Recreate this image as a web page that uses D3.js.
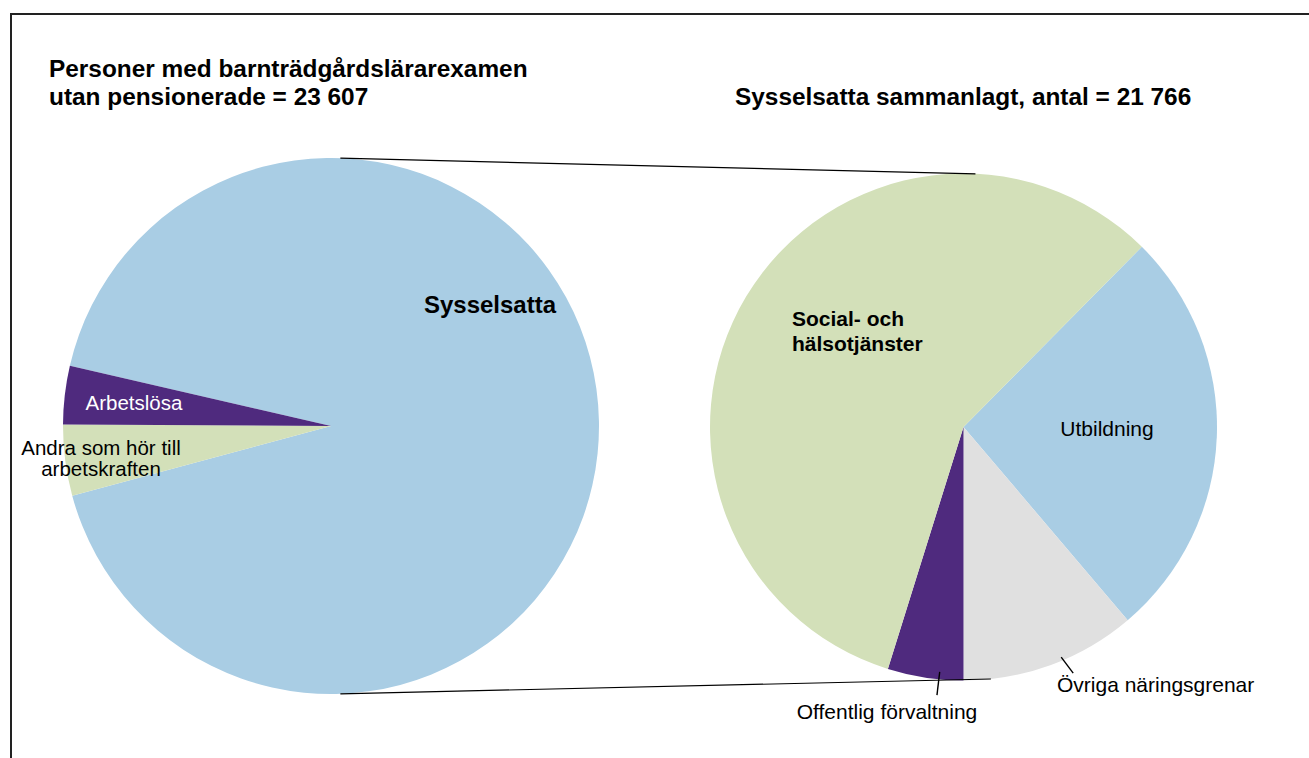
<!DOCTYPE html>
<html>
<head>
<meta charset="utf-8">
<script src="https://cdn.jsdelivr.net/npm/d3@7"></script>
<style>
  body { margin: 0; background: #fff; }
  text { font-family: "Liberation Sans", Arial, sans-serif; }
</style>
</head>
<body>
<svg id="chart"></svg>
<script>
// data
const totalLabel = ["Personer med barnträdgårdslärarexamen", "utan pensionerade = 23 607"];
const subLabel = "Sysselsatta sammanlagt, antal = 21 766";

const mainCategories = ["Sysselsatta", "Andra som hör till arbetskraften", "Arbetslösa"];
const mainValues = [21766, 1011, 830];
const mainColors = ["#a9cde4", "#d3e0b9", "#4f2a7e"];

const subCategories = ["Utbildning", "Övriga näringsgrenar", "Offentlig förvaltning", "Social- och hälsotjänster"];
const subValues = [5740, 2440, 1050, 12536];
const subColors = ["#a9cde4", "#e0e0e0", "#4f2a7e", "#d3e0b9"];

// setting up svg
const w = 1309, h = 758;
const svg = d3.select("#chart").attr("width", w).attr("height", h);

// frame
svg.append("rect")
  .attr("x", 11).attr("y", 14)
  .attr("width", w + 10).attr("height", h + 10)
  .attr("fill", "none").attr("stroke", "#222").attr("stroke-width", 2);

const deg = Math.PI / 180;
const left = { cx: 331, cy: 426, r: 268 };
const right = { cx: 963.5, cy: 427, r: 253.5 };

const polar = (c, a, r) => [c.cx + Math.sin(a) * (r ?? c.r), c.cy - Math.cos(a) * (r ?? c.r)];

// left pie
const pieMain = d3.pie().sort(null).value(d => d)
  .startAngle(-77 * deg).endAngle(283 * deg);
const arcMain = d3.arc().innerRadius(0).outerRadius(left.r);
const mainArcs = pieMain(mainValues);

svg.append("g").attr("transform", `translate(${left.cx},${left.cy})`)
  .selectAll("path")
  .data(mainArcs)
  .join("path")
    .attr("d", arcMain)
    .attr("fill", (d, i) => mainColors[i]);

// right pie
const pieSub = d3.pie().sort(null).value(d => d)
  .startAngle(44.7 * deg).endAngle(404.7 * deg);
const arcSub = d3.arc().innerRadius(0).outerRadius(right.r);
const subArcs = pieSub(subValues);

svg.append("g").attr("transform", `translate(${right.cx},${right.cy})`)
  .selectAll("path")
  .data(subArcs)
  .join("path")
    .attr("d", arcSub)
    .attr("fill", (d, i) => subColors[i]);

// connector lines
const connectors = [
  [polar(left, 2 * deg), polar(right, 2.7 * deg)],
  [polar(left, 178 * deg), polar(right, 173.8 * deg)]
];
svg.selectAll("line.conn")
  .data(connectors)
  .join("line")
    .attr("class", "conn")
    .attr("x1", d => d[0][0]).attr("y1", d => d[0][1])
    .attr("x2", d => d[1][0]).attr("y2", d => d[1][1])
    .attr("stroke", "#000").attr("stroke-width", 1.2);

// titles
svg.append("text").attr("x", 49).attr("y", 77)
  .attr("font-size", 24.4).attr("font-weight", "bold").text(totalLabel[0]);
svg.append("text").attr("x", 49).attr("y", 105)
  .attr("font-size", 24.4).attr("font-weight", "bold").text(totalLabel[1]);
svg.append("text").attr("x", 735).attr("y", 105)
  .attr("font-size", 24.4).attr("font-weight", "bold").text(subLabel);

// left labels
svg.append("text").attr("x", 490).attr("y", 313)
  .attr("text-anchor", "middle").attr("font-size", 24).attr("font-weight", "bold")
  .text(mainCategories[0]);
svg.append("text").attr("x", 134).attr("y", 410)
  .attr("text-anchor", "middle").attr("font-size", 20.5).attr("fill", "#fff")
  .text(mainCategories[2]);
const andra = svg.append("text").attr("text-anchor", "middle").attr("font-size", 20.5);
andra.append("tspan").attr("x", 101).attr("y", 455).text("Andra som hör till");
andra.append("tspan").attr("x", 101).attr("y", 476).text("arbetskraften");

// right labels
const soc = svg.append("text").attr("font-size", 21).attr("font-weight", "bold");
soc.append("tspan").attr("x", 792).attr("y", 326).text("Social- och");
soc.append("tspan").attr("x", 792).attr("y", 351).text("hälsotjänster");

svg.append("text").attr("x", 1107).attr("y", 436)
  .attr("text-anchor", "middle").attr("font-size", 21).text(subCategories[0]);

// leader lines for small slices
const ovr = subArcs[1], off = subArcs[2];
const ovrA = ovr.startAngle + (ovr.endAngle - ovr.startAngle) * 0.43;
const offA = off.startAngle + (off.endAngle - off.startAngle) * 0.32;
const leaders = [
  [polar(right, ovrA, right.r - 3.5), polar(right, ovrA - 1 * deg, right.r + 16)],
  [polar(right, offA, right.r - 7.5), polar(right, offA + 0.1 * deg, right.r + 16)]
];
svg.selectAll("line.lead")
  .data(leaders)
  .join("line")
    .attr("class", "lead")
    .attr("x1", d => d[0][0]).attr("y1", d => d[0][1])
    .attr("x2", d => d[1][0]).attr("y2", d => d[1][1])
    .attr("stroke", "#000").attr("stroke-width", 1.4);

svg.append("text").attr("x", 1057).attr("y", 692)
  .attr("font-size", 21).text(subCategories[1]);
svg.append("text").attr("x", 887).attr("y", 719)
  .attr("text-anchor", "middle").attr("font-size", 21).text(subCategories[2]);
</script>
</body>
</html>
